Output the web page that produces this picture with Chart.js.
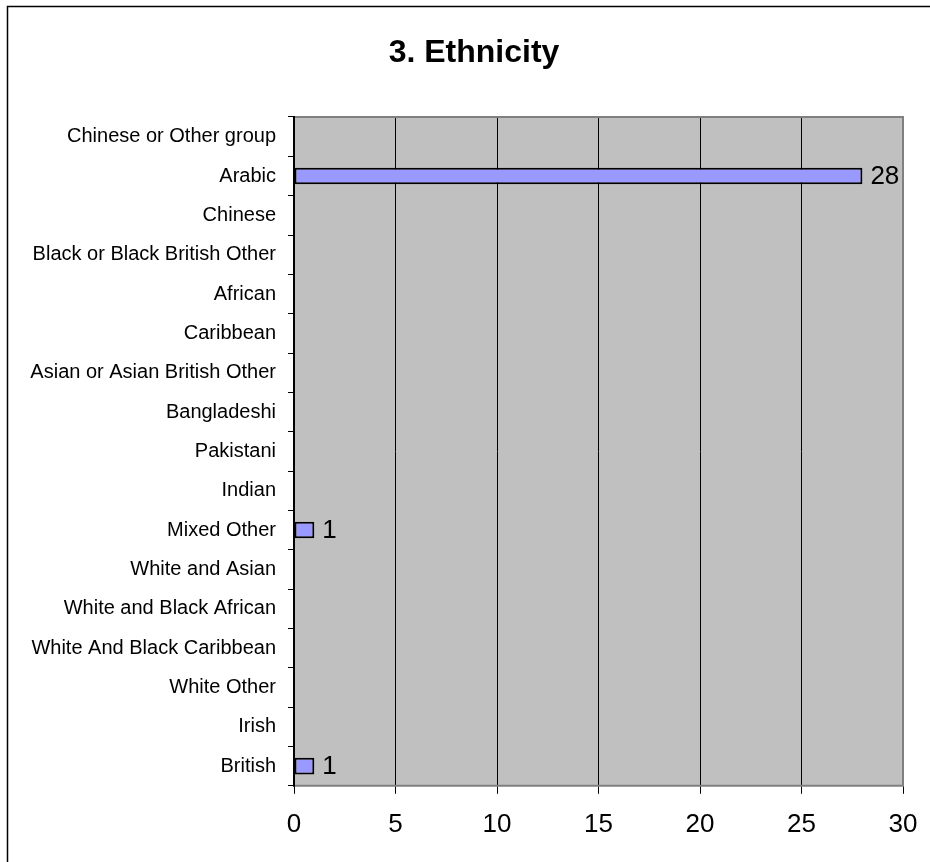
<!DOCTYPE html>
<html>
<head>
<meta charset="utf-8">
<script src="https://cdn.jsdelivr.net/npm/chart.js@4"></script>
<style>
  html, body { margin: 0; padding: 0; background: #fff; }
  #wrap { width: 930px; height: 862px; }
</style>
</head>
<body>
<div id="wrap"><canvas id="chart_ethnicity"></canvas></div>
<script>
// categories top to bottom
const categories = [
  'Chinese or Other group',
  'Arabic',
  'Chinese',
  'Black or Black British Other',
  'African',
  'Caribbean',
  'Asian or Asian British Other',
  'Bangladeshi',
  'Pakistani',
  'Indian',
  'Mixed Other',
  'White and Asian',
  'White and Black African',
  'White And Black Caribbean',
  'White Other',
  'Irish',
  'British'
];
const counts = [0, 28, 0, 0, 0, 0, 0, 0, 0, 0, 1, 0, 0, 0, 0, 0, 1];
const x_ticks = [0, 5, 10, 15, 20, 25, 30];
const chart_title = '3. Ethnicity';

const FONT = "'Liberation Sans', Arial, sans-serif";

// frame, grey plot area, title, data labels
const excel_look = {
  id: 'excel_look',
  beforeDraw(chart) {
    const ctx = chart.ctx, a = chart.chartArea;
    ctx.save();
    ctx.fillStyle = '#fff';
    ctx.fillRect(0, 0, chart.width, chart.height);
    ctx.strokeStyle = '#000';
    ctx.lineWidth = 1.5;
    ctx.strokeRect(7.5, 6.5, chart.width + 10, chart.height + 10);
    ctx.fillStyle = '#c0c0c0';
    ctx.fillRect(a.left, a.top, a.right - a.left, a.bottom - a.top);
    // title sits centred over the whole picture, not the plot
    ctx.fillStyle = '#000';
    ctx.font = `bold 32px ${FONT}`;
    ctx.textAlign = 'center';
    ctx.textBaseline = 'middle';
    ctx.fillText(chart_title, 474, 53);
    ctx.restore();
  },
  afterDatasetsDraw(chart) {
    const ctx = chart.ctx;
    const meta = chart.getDatasetMeta(0);
    ctx.save();
    ctx.font = `26px ${FONT}`;
    ctx.fillStyle = '#000';
    ctx.textBaseline = 'middle';
    ctx.textAlign = 'left';
    meta.data.forEach((bar, i) => {
      if (counts[i] > 0) ctx.fillText(String(counts[i]), bar.x + 8, bar.y + 1);
    });
    ctx.restore();
  },
  afterDraw(chart) {
    const ctx = chart.ctx, a = chart.chartArea;
    ctx.save();
    ctx.strokeStyle = '#808080';
    ctx.lineWidth = 2;
    ctx.beginPath();
    ctx.moveTo(a.left, a.top);
    ctx.lineTo(a.right, a.top);
    ctx.lineTo(a.right, a.bottom);
    ctx.lineTo(a.left, a.bottom);
    ctx.stroke();
    ctx.strokeStyle = '#000';
    ctx.lineWidth = 2;
    ctx.beginPath();
    ctx.moveTo(a.left, a.top - 1);
    ctx.lineTo(a.left, a.bottom + 1);
    ctx.stroke();
    ctx.restore();
  }
};

const ctx = document.getElementById('chart_ethnicity').getContext('2d');
new Chart(ctx, {
  type: 'bar',
  data: {
    labels: categories,
    datasets: [{
      data: counts,
      backgroundColor: '#9999ff',
      borderColor: '#000',
      borderWidth: 2,
      borderSkipped: false,
      barPercentage: 0.42,
      categoryPercentage: 1
    }]
  },
  options: {
    indexAxis: 'y',
    responsive: true,
    maintainAspectRatio: false,
    animation: false,
    layout: { padding: { left: 0, right: 27, top: 117, bottom: 7 } },
    scales: {
      x: {
        min: 0,
        max: 30,
        afterBuildTicks(scale) {
          scale.ticks = x_ticks.map(v => ({ value: v }));
        },
        afterFit(scale) {
          // let the "30" label hang past the plot like the original
          scale.paddingRight = 0;
        },
        grid: { color: '#000', lineWidth: 1, tickLength: 8, drawTicks: true },
        border: { display: false },
        ticks: {
          color: '#000',
          padding: 15,
          maxRotation: 0,
          font: { family: FONT, size: 26 }
        }
      },
      y: {
        afterFit(scale) { scale.width = 294; },
        grid: { drawOnChartArea: false, drawTicks: true, tickLength: 6, color: '#000', offset: true },
        border: { display: true, color: '#000', width: 2 },
        ticks: {
          color: '#000',
          padding: 12,
          autoSkip: false,
          font: { family: FONT, size: 20 }
        }
      }
    },
    plugins: {
      legend: { display: false },
      tooltip: { enabled: false },
      title: { display: false }
    }
  },
  plugins: [excel_look]
});
</script>
</body>
</html>
